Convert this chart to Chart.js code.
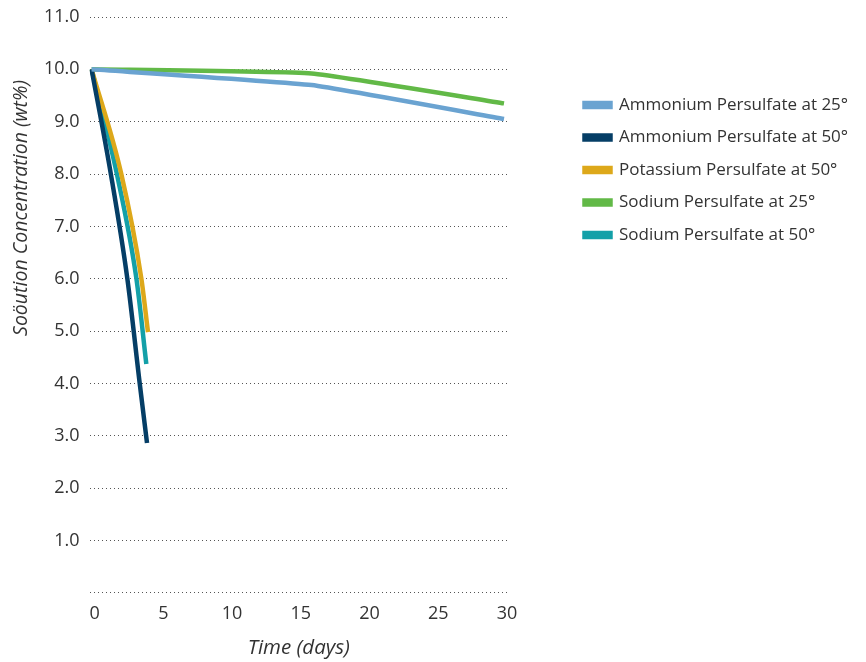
<!DOCTYPE html>
<html>
<head>
<meta charset="utf-8">
<script src="https://cdn.jsdelivr.net/npm/chart.js@4.4.1/dist/chart.umd.min.js"></script>
<style>
html,body{margin:0;padding:0;background:#fff;}
#wrap{width:866px;height:662px;position:relative;}
</style>
</head>
<body>
<div id="wrap"><canvas id="c"></canvas></div>
<script>
const seriesNames = [
  'Ammonium Persulfate at 25°',
  'Ammonium Persulfate at 50°',
  'Potassium Persulfate at 50°',
  'Sodium Persulfate at 25°',
  'Sodium Persulfate at 50°'
];
const ammonium25Days = [0, 16, 30];
const ammonium25Values = [10.0, 9.7, 9.05];
const ammonium50Days = [0, 1.4, 2.6, 3.5, 4.03];
const ammonium50Values = [10.0, 8.0, 6.0, 4.0, 2.86];
const potassium50Days = [0, 2.16, 3.62, 4.1];
const potassium50Values = [10.0, 8.0, 6.0, 4.98];
const sodium25Days = [0, 16, 30];
const sodium25Values = [10.0, 9.92, 9.35];
const sodium50Days = [0, 1.84, 3.26, 3.98];
const sodium50Values = [10.0, 8.0, 6.0, 4.37];
const xTicks = [0, 5, 10, 15, 20, 25, 30];
const yTicks = [0, 1, 2, 3, 4, 5, 6, 7, 8, 9, 10, 11];
const xTitle = 'Time (days)';
const yTitle = 'Soöution Concentration (wt%)';
const colors = ['#6aa3d1', '#053e66', '#dda81a', '#62b947', '#13a0a8'];
const smooth = [false, true, true, false, true];

function pts(xs, ys){ return xs.map((x,i)=>({x:x, y:ys[i]})); }
const allData = [
  pts(ammonium25Days, ammonium25Values),
  pts(ammonium50Days, ammonium50Values),
  pts(potassium50Days, potassium50Values),
  pts(sodium25Days, sodium25Values),
  pts(sodium50Days, sodium50Values)
];

const FONT = '"Open Sans", "Noto Sans", sans-serif';
Chart.defaults.font.family = FONT;
Chart.defaults.color = '#333';

const legendFix = {
  id: 'legendFix',
  beforeLayout(chart){
    const l = chart.legend;
    if(l && !l._fx){
      const f = l.fit;
      l.fit = function(){ f.call(this); this.width = 358; };
      l._fx = true;
    }
  },
  afterLayout(chart){
    const l = chart.legend;
    if(!l) return;
    const dx = 61, dy = 64;
    l.left += dx; l.right += dx; l.top += dy; l.bottom += dy;
  }
};

const yTitlePlugin = {
  id: 'yTitlePlugin',
  afterDraw(chart){
    const ctx = chart.ctx;
    ctx.save();
    ctx.translate(21, 208);
    ctx.rotate(-Math.PI/2);
    ctx.font = 'italic 19.5px ' + FONT;
    ctx.fillStyle = '#333';
    ctx.textAlign = 'center';
    ctx.textBaseline = 'middle';
    ctx.fillText(yTitle, 0, 0);
    ctx.restore();
  }
};

new Chart(document.getElementById('c'), {
  type: 'line',
  data: {
    datasets: allData.map((d,i)=>({
      label: seriesNames[i],
      data: d,
      borderColor: colors[i],
      backgroundColor: colors[i],
      borderWidth: 4.5,
      pointRadius: 0,
      cubicInterpolationMode: smooth[i] ? 'monotone' : 'default',
      tension: smooth[i] ? 0.4 : 0.12,
      fill: false
    }))
  },
  options: {
    responsive: true,
    maintainAspectRatio: false,
    animation: false,
    layout: { padding: { top: 17, left: 34, right: 0, bottom: 0 } },
    plugins: {
      legend: {
        position: 'right',
        align: 'start',
        labels: {
          boxWidth: 26,
          boxHeight: 4,
          padding: 15.5,
          font: { size: 17 },
          color: '#333'
        }
      },
      tooltip: { enabled: false }
    },
    scales: {
      x: {
        type: 'linear',
        min: -0.146,
        max: 30.29,
        afterBuildTicks(axis){ axis.ticks = xTicks.map(v=>({value:v})); },
        grid: { display: false, drawTicks: false },
        border: { display: false },
        ticks: { font: { size: 18 }, color: '#333', padding: 10, labelOffset: 3, callback: v => String(v) },
        title: { display: true, text: xTitle, font: { size: 20.5, style: 'italic' }, color: '#333', padding: { top: 1, bottom: 2 } }
      },
      y: {
        min: 0,
        max: 11,
        afterBuildTicks(axis){ axis.ticks = yTicks.map(v=>({value:v})); },
        afterFit(scale){ scale.paddingTop = 0; scale.paddingBottom = 0; },
        grid: { color: '#555', lineWidth: 1, drawTicks: false },
        border: { display: false, dash: [1, 3] },
        ticks: { font: { size: 18 }, color: '#333', padding: 10, callback: v => v === 0 ? '' : v.toFixed(1) },
        title: { display: false }
      }
    }
  },
  plugins: [legendFix, yTitlePlugin]
});
</script>
</body>
</html>
